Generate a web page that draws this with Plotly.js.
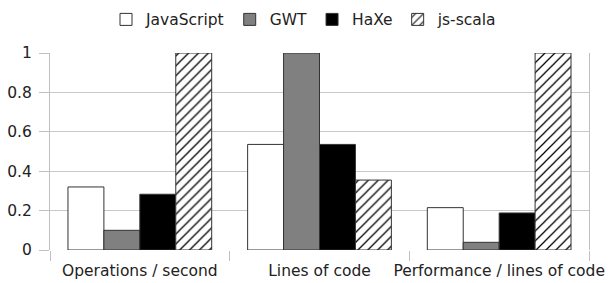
<!DOCTYPE html>
<html>
<head>
<meta charset="utf-8">
<script src="https://cdn.plot.ly/plotly-3.0.1.min.js"></script>
<style>html,body{margin:0;padding:0;background:#fff;}#chart{width:608px;height:283px;}</style>
</head>
<body>
<div id="chart"></div>
<script>
const categories = ["Operations / second", "Lines of code", "Performance / lines of code"];
const seriesNames = ["JavaScript", "GWT", "HaXe", "js-scala"];
const javascriptVals = [0.32, 0.536, 0.215];
const gwtVals = [0.10, 1.0, 0.039];
const haxeVals = [0.283, 0.536, 0.188];
const jsScalaVals = [1.0, 0.355, 1.0];
const yTicks = [0, 0.2, 0.4, 0.6, 0.8, 1];

const FONT = "DejaVu Sans";
const outline = {color: "#333333", width: 1};

const traces = [
  {name: seriesNames[0], y: javascriptVals, marker: {color: "#ffffff", line: outline}},
  {name: seriesNames[1], y: gwtVals, marker: {color: "#808080", line: outline}},
  {name: seriesNames[2], y: haxeVals, marker: {color: "#000000", line: outline}},
  {name: seriesNames[3], y: jsScalaVals, marker: {color: "#ffffff", line: outline,
     pattern: {shape: "/", fgcolor: "#000000", bgcolor: "#ffffff", size: 7, solidity: 0.18}}}
].map(t => Object.assign({type: "bar", x: categories, hoverinfo: "none"}, t));

const layout = {
  width: 608, height: 283,
  margin: {l: 50, r: 19, t: 53, b: 33},
  paper_bgcolor: "#ffffff", plot_bgcolor: "#ffffff",
  font: {family: FONT, size: 15.5, color: "#222222"},
  barmode: "group", bargap: 0.2, bargroupgap: 0,
  showlegend: true,
  legend: {orientation: "h", xref: "container", yref: "container", x: 0.5, xanchor: "center",
           y: 0.99, yanchor: "top", font: {family: FONT, size: 15.5, color: "#222222"},
           itemwidth: 30, traceorder: "normal"},
  xaxis: {type: "category", showgrid: false, zeroline: false, showline: false,
          ticks: "outside", tickson: "boundaries", ticklen: 10, tickcolor: "#c0c0c0", tickwidth: 1,
          tickangle: 0, automargin: false, ticklabelstandoff: 9,
          tickfont: {family: FONT, size: 15.5, color: "#222222"}},
  yaxis: {range: [0, 1], tickvals: yTicks, showgrid: true, gridcolor: "#c8c8c8", gridwidth: 1,
          zeroline: false, showline: true, mirror: true, linecolor: "#c0c0c0", linewidth: 1,
          ticks: "outside", ticklen: 10, tickcolor: "#c0c0c0", ticklabelstandoff: 4,
          tickfont: {family: FONT, size: 15.5, color: "#222222"}}
};

Plotly.newPlot("chart", traces, layout, {staticPlot: true, displayModeBar: false});
</script>
</body>
</html>
